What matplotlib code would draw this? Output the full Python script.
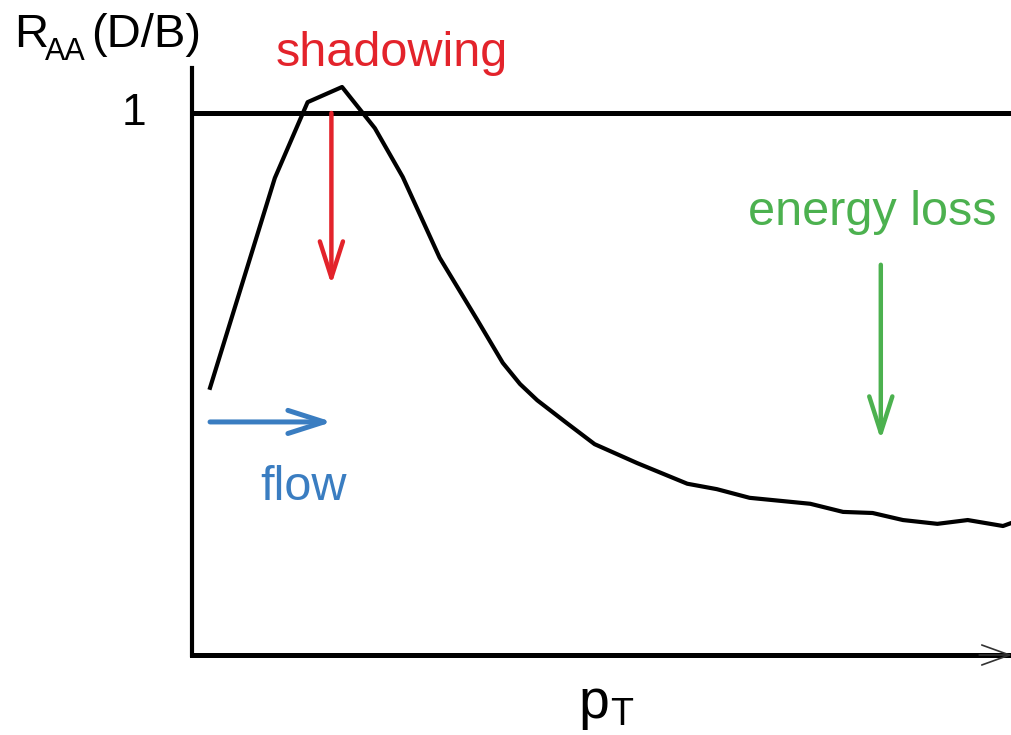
import matplotlib
matplotlib.use("Agg")
import matplotlib.pyplot as plt

plt.rcParams['font.family'] = ['Liberation Sans', 'DejaVu Sans']

# --- data: sketch of R_AA(D/B) vs pT (arbitrary units) ---
pt = [0.22, 1.01, 1.41, 1.83, 2.23, 2.57, 3.02, 3.48, 3.79, 4.00, 4.21, 4.57,
      4.91, 5.43, 6.04, 6.40, 6.80, 7.54, 7.94, 8.30, 8.67, 9.09, 9.46, 9.89,
      10.0]
raa = [0.493, 0.880, 1.020, 1.048, 0.972, 0.882, 0.733, 0.618, 0.539, 0.500,
       0.470, 0.428, 0.389, 0.354, 0.316, 0.306, 0.290, 0.279, 0.264, 0.262,
       0.249, 0.242, 0.249, 0.238, 0.244]
ref_level = 1.0

RED = '#e3232b'
GREEN = '#4cb14f'
BLUE = '#3a7dc1'

W, H = 1012, 735
fig = plt.figure(figsize=(W / 100, H / 100), dpi=100)
# axes box in pixels: left 192, right 1012, bottom 655, top 68
ax = fig.add_axes([192 / W, (H - 655) / H, (1012 - 192) / W, (655 - 68) / H])
ax.set_xlim(0, 10)
ax.set_ylim(0, (655 - 68) / 542)

ax.plot(pt, raa, color='black', lw=3.0, solid_joinstyle='round', clip_on=False)
ax.axhline(ref_level, color='black', lw=3.6)

for side in ['top', 'right']:
    ax.spines[side].set_visible(False)
ax.spines['left'].set_linewidth(3.0)
ax.spines['bottom'].set_linewidth(3.6)
ax.set_xticks([])
ax.set_yticks([])

# thin arrow head at the end of the pT axis
ax.annotate('', xy=(1.0, 0), xytext=(0.96, 0), xycoords='axes fraction',
            arrowprops=dict(arrowstyle='->,head_length=1.0,head_width=0.36',
                            lw=1.2, color='#333333', mutation_scale=20,
                            shrinkA=0, shrinkB=0), annotation_clip=False)

arrow_style = '->,head_length=1.0,head_width=0.32'
# shadowing arrow
ax.annotate('', xy=(1.70, 0.683), xytext=(1.70, ref_level),
            arrowprops=dict(arrowstyle=arrow_style, lw=3.2, color=RED,
                            mutation_scale=26, shrinkA=0, shrinkB=0))
# energy loss arrow
ax.annotate('', xy=(8.40, 0.397), xytext=(8.40, 0.720),
            arrowprops=dict(arrowstyle=arrow_style, lw=3.2, color=GREEN,
                            mutation_scale=26, shrinkA=0, shrinkB=0))
# flow arrow
ax.annotate('', xy=(1.71, 0.430), xytext=(0.22, 0.430),
            arrowprops=dict(arrowstyle=arrow_style, lw=3.6, color=BLUE,
                            mutation_scale=26, shrinkA=0, shrinkB=0))

def px(x, y):
    return x / W, (H - y) / H

# y label R_AA(D/B), built from pieces so the subscript sits like the original
fig.text(*px(14, 47), 'R', fontsize=34, va='baseline', ha='left')
fig.text(*px(45, 60), 'AA', fontsize=22, va='baseline', ha='left')
fig.text(*px(91, 47), '(D/B)', fontsize=34, va='baseline', ha='left')
fig.text(*px(146, 125), '1', fontsize=32, va='baseline', ha='right')
fig.text(*px(392, 66), 'shadowing', fontsize=35, color=RED, va='baseline', ha='center')
fig.text(*px(748, 225), 'energy loss', fontsize=35, color=GREEN, va='baseline', ha='left')
fig.text(*px(260, 500), 'flow', fontsize=35, color=BLUE, va='baseline', ha='left')
# x label p_T
fig.text(*px(578, 718), 'p', fontsize=40, va='baseline', ha='left')
fig.text(*px(610, 725), 'T', fontsize=27, va='baseline', ha='left')

fig.savefig('out.png', dpi=100)
